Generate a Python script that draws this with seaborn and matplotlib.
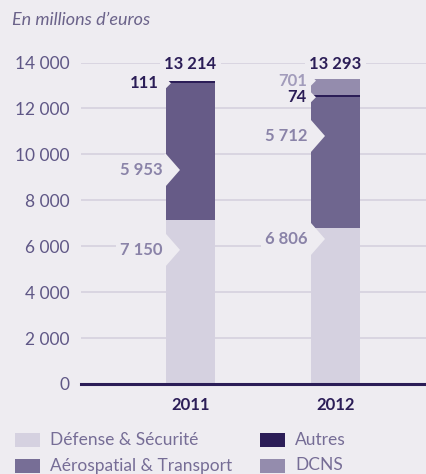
import matplotlib
matplotlib.use("Agg")
import matplotlib.pyplot as plt
from matplotlib.patches import Polygon, Rectangle
import seaborn as sns
import pandas as pd
import numpy as np

# Chiffre d'affaires par segment, en millions d'euros
years = ["2011", "2012"]
defense = [7150, 6806]
aero = [5953, 5712]
autres = [111, 74]
dcns = [0, 701]
totals = [13214, 13293]
segments = ["Défense & Sécurité", "Aérospatial & Transport", "Autres", "DCNS"]
yticks = [0, 2000, 4000, 6000, 8000, 10000, 12000, 14000]

# Vertical anchors of the value labels (per year: défense, aéro, autres, dcns)
label_y = [[5840, 9320, 13096, None], [6315, 10800, 12487, 13210]]

BG = "#EEECF1"
GRID = "#D5D1DE"
DARK = "#2B1D57"
C_DEF = "#D5D1E0"
C_AERO = ["#665B87", "#6F668F"]
C_AERO_LEG = "#776E96"
C_AUT = "#2B1D57"
C_DCNS = "#948CAD"
TXT_MID = "#8A83A8"
TXT_LIGHT = "#A29CBB"
TXT_TICK = "#5F5786"
TXT_LEG = "#766D96"

sns.set_theme(style="white")
plt.rcParams["font.family"] = ["Lato", "DejaVu Sans"]

fig = plt.figure(figsize=(4.27, 4.74), dpi=100, facecolor=BG)
ax = fig.add_axes([81 / 427, 90 / 474, 346 / 427, 321.5 / 474])
ax.set_facecolor(BG)

df = pd.DataFrame({"year": years, "defense": defense, "aero": aero,
                   "autres": autres, "dcns": dcns})
df["c1"] = df["defense"]
df["c2"] = df["c1"] + df["aero"]
df["c3"] = df["c2"] + df["autres"]
df["c4"] = df["c3"] + df["dcns"]

W = 0.338
layers = [("c4", [C_DCNS, C_DCNS]), ("c3", [C_AUT, C_AUT]),
          ("c2", C_AERO), ("c1", [C_DEF, C_DEF])]
for col, pal in layers:
    sns.barplot(data=df, x="year", y=col, hue="year", palette=pal, width=W,
                linewidth=0, saturation=1, legend=False, ax=ax, zorder=2,
                errorbar=None)

ax.set_xlim(-0.755, 1.631)
ax.set_ylim(0, 14000)
ax.set_yticks(yticks)
ax.set_yticklabels([f"{v:,}".replace(",", " ") for v in yticks])
ax.yaxis.grid(True, color=GRID, lw=1.2, zorder=0)
ax.set_axisbelow(True)
for s in ["left", "top", "right"]:
    ax.spines[s].set_visible(False)
ax.spines["bottom"].set_color(DARK)
ax.spines["bottom"].set_linewidth(2.2)
ax.spines["bottom"].set_zorder(5)
ax.set_xlabel("")
ax.set_ylabel("")
ax.tick_params(axis="y", length=0, pad=8.5, labelsize=12.5, labelcolor=TXT_TICK)
ax.tick_params(axis="x", length=0, pad=9, labelsize=12, labelcolor=DARK)
for lbl in ax.get_xticklabels():
    lbl.set_fontweight("bold")

# px -> data unit helpers
px_x = 1 / 145.0
px_y = 1000 / 22.96


def notch(i, y, depth_px, half_px):
    left = i - W / 2
    d = depth_px * px_x
    h = half_px * px_y
    ax.add_patch(Polygon([(left - 0.01, y - h), (left, y - h), (left + d, y),
                          (left, y + h), (left - 0.01, y + h)],
                         closed=True, fc=BG, ec="none", zorder=3))


values = [defense, aero, autres, dcns]
colors = [TXT_MID, TXT_MID, DARK, TXT_LIGHT]
for i in range(len(years)):
    left = i - W / 2
    for k in [0, 1, 3, 2]:
        y = label_y[i][k]
        if y is None or values[k][i] == 0:
            continue
        big = k < 2
        notch(i, y, 14 if big else 5, 16 if big else 5)
        gap = 3 if big else (7 if (k == 2 and i == 0) else 4)
        pad = 0.25 if big else 0.1
        ax.text(left - gap * px_x, y, f"{values[k][i]:,}".replace(",", " "),
                ha="right", va="center", fontsize=12, fontweight="bold",
                color=colors[k], zorder=4,
                bbox=dict(boxstyle=f"square,pad={pad}", fc=BG, ec="none"))
    ax.text(i, 13950, f"{totals[i]:,}".replace(",", " "), ha="center",
            va="center", fontsize=12, fontweight="bold", color=DARK, zorder=4,
            bbox=dict(boxstyle="square,pad=0.25", fc=BG, ec="none"))

# Unit caption
fig.text(12 / 427, 1 - 20 / 474, "En millions d’euros", fontsize=13,
         style="italic", color="#6B638A", va="center", ha="left")

# Legend
leg_items = [(segments[0], C_DEF, 15, 440), (segments[1], C_AERO_LEG, 15, 465.5),
             (segments[2], C_AUT, 260, 440), (segments[3], C_DCNS, 260, 465.5)]
for name, c, x0, yc in leg_items:
    fig.patches.append(Rectangle((x0 / 427, 1 - (yc + 7) / 474), 25 / 427, 14 / 474,
                                 transform=fig.transFigure, fc=c, ec="none"))
    fig.text((x0 + 35) / 427, 1 - yc / 474, name, fontsize=12.5,
             color=TXT_LEG, va="center", ha="left")

fig.savefig("out.png", dpi=100, facecolor=BG)
